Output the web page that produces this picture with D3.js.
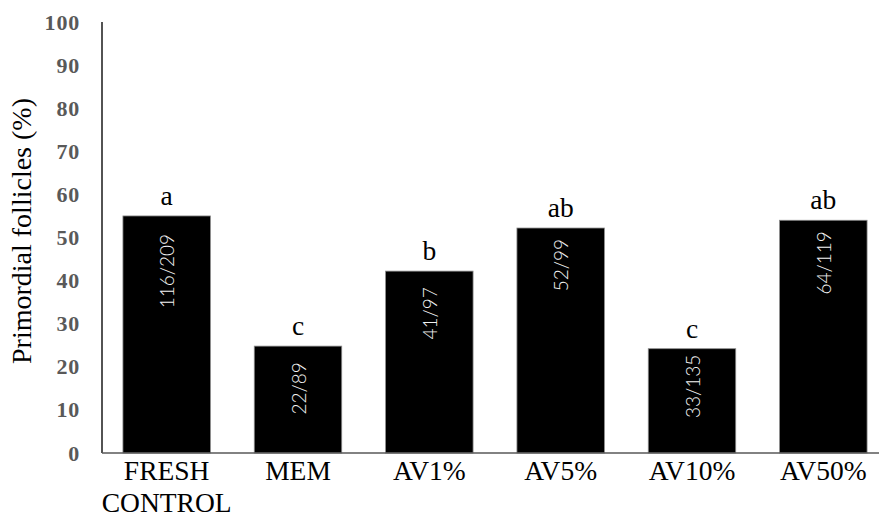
<!DOCTYPE html>
<html>
<head>
<meta charset="utf-8">
<script src="https://cdn.jsdelivr.net/npm/d3@7"></script>
<style>
  html, body { margin: 0; padding: 0; background: #fff; }
  svg { display: block; }
</style>
</head>
<body>
<svg id="chart" width="879" height="516"></svg>
<script>
// Groups on the x axis (multi-line names split on "\n")
const categories = ["FRESH\nCONTROL", "MEM", "AV1%", "AV5%", "AV10%", "AV50%"];
// Primordial follicle rate per group (%)
const values = [55.0, 24.8, 42.2, 52.2, 24.2, 54.0];
// Counts written inside each bar (primordial / total)
const countLabels = ["116/209", "22/89", "41/97", "52/99", "33/135", "64/119"];
// Significance letters above each bar
const sigLetters = ["a", "c", "b", "ab", "c", "ab"];
// Y axis ticks
const yTicks = [0, 10, 20, 30, 40, 50, 60, 70, 80, 90, 100];

// Per-bar gap between bar top and the end of the inside label (px)
const insideGap = [18, 16, 16, 11, 6, 11];

const svg = d3.select("#chart");
const serif = "'Liberation Serif', 'Times New Roman', serif";

const x = d3.scaleBand()
  .domain(categories)
  .range([101, 889])
  .paddingInner(0.334)
  .paddingOuter(0.167);

const y = d3.scaleLinear().domain([0, 100]).range([453, 22]);

// Bars
svg.append("g").selectAll("rect")
  .data(values)
  .join("rect")
  .attr("x", (d, i) => x(categories[i]))
  .attr("y", d => y(d))
  .attr("width", x.bandwidth())
  .attr("height", d => y(0) - y(d))
  .attr("fill", "#000")
  .attr("stroke", "#8c8c8c")
  .attr("stroke-width", 0.8);

// Y axis: labels only, with a plain vertical line
const yAxis = d3.axisLeft(y).tickValues(yTicks).tickSize(0).tickPadding(22);
const gy = svg.append("g").attr("transform", "translate(102,0)").call(yAxis);
gy.select(".domain").remove();
gy.selectAll("text")
  .attr("font-family", serif)
  .attr("font-size", 22)
  .attr("font-weight", "bold")
  .attr("letter-spacing", 0.8)
  .attr("fill", "#595959");

svg.append("line")
  .attr("x1", 102).attr("x2", 102)
  .attr("y1", y(100)).attr("y2", y(0))
  .attr("stroke", "#1a1a1a").attr("stroke-width", 1.5);

// X axis baseline
svg.append("line")
  .attr("x1", 102).attr("x2", 879)
  .attr("y1", y(0)).attr("y2", y(0))
  .attr("stroke", "#595959").attr("stroke-width", 1.5);

// X category labels
const xl = svg.append("g").selectAll("text")
  .data(categories)
  .join("text")
  .attr("x", d => x(d) + x.bandwidth() / 2)
  .attr("y", 480)
  .attr("text-anchor", "middle")
  .attr("font-family", serif)
  .attr("font-size", 27.5)
  .attr("fill", "#000");
xl.each(function(d) {
  const t = d3.select(this);
  d.split("\n").forEach((line, k) => {
    t.append("tspan")
      .attr("x", x(d) + x.bandwidth() / 2)
      .attr("dy", k === 0 ? 0 : 31.5)
      .text(line);
  });
});

// Significance letters
svg.append("g").selectAll("text")
  .data(sigLetters)
  .join("text")
  .attr("x", (d, i) => x(categories[i]) + x.bandwidth() / 2)
  .attr("y", (d, i) => y(values[i]) - 11)
  .attr("text-anchor", "middle")
  .attr("font-family", serif)
  .attr("font-size", 27.5)
  .attr("fill", "#000")
  .text(d => d);

// Counts inside bars, reading bottom to top
svg.append("g").selectAll("text")
  .data(countLabels)
  .join("text")
  .attr("transform", (d, i) =>
    `translate(${x(categories[i]) + x.bandwidth() / 2 + 1},${y(values[i]) + insideGap[i]}) rotate(-90)`)
  .attr("text-anchor", "end")
  .attr("dy", "0.35em")
  .attr("font-family", "Lato, 'Open Sans', sans-serif")
  .attr("font-weight", 300)
  .attr("font-size", 19)
  .attr("fill", "#f2f2f2")
  .text(d => d);

// Y axis title
svg.append("text")
  .attr("transform", "translate(31,231) rotate(-90)")
  .attr("text-anchor", "middle")
  .attr("font-family", serif)
  .attr("font-size", 28)
  .attr("fill", "#000")
  .text("Primordial follicles (%)");
</script>
</body>
</html>
